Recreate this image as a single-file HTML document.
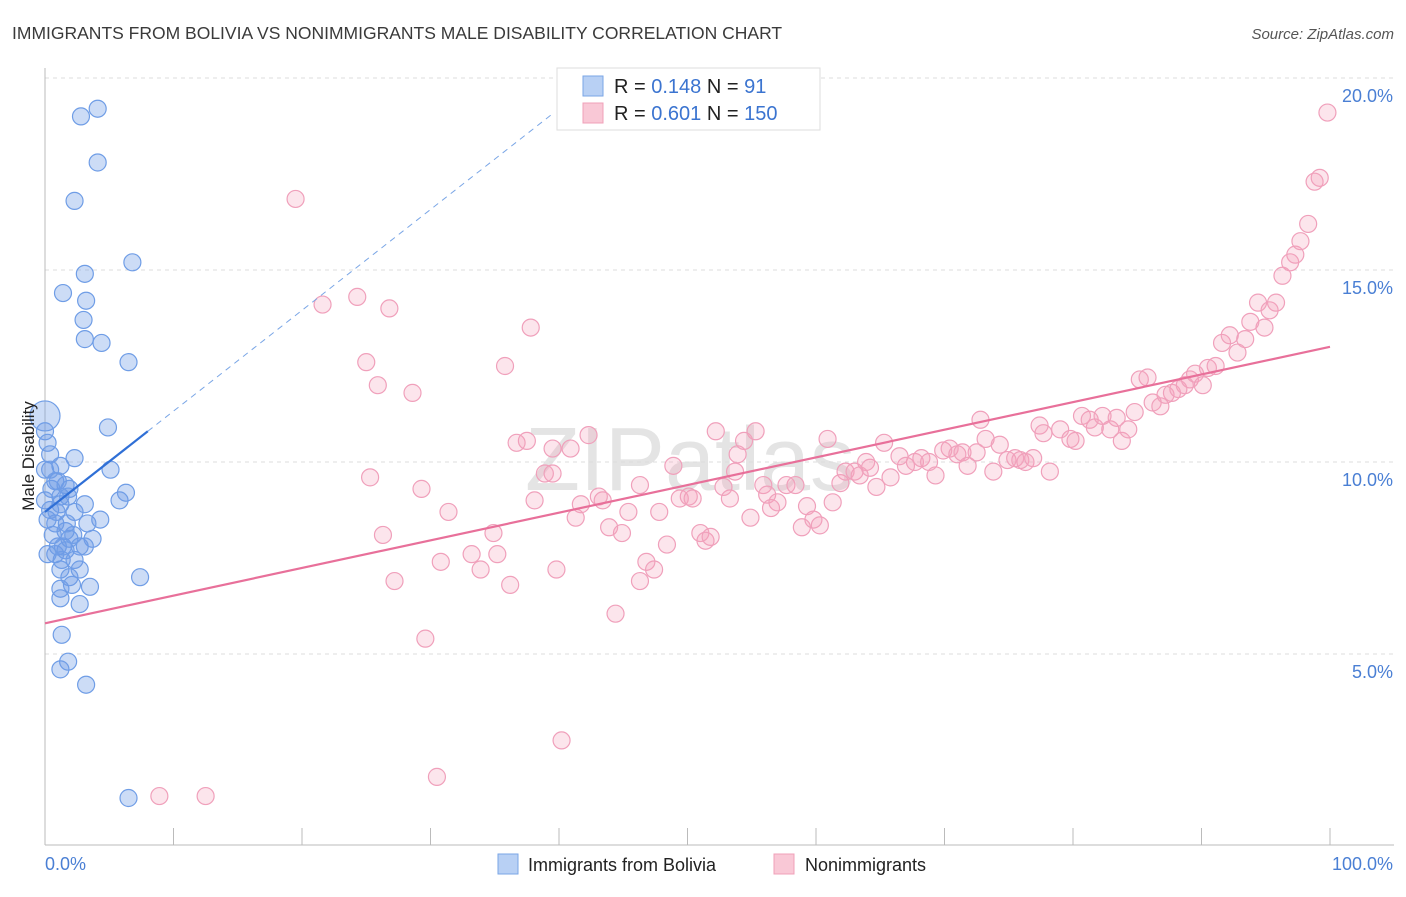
<!DOCTYPE html>
<html><head><meta charset="utf-8"><style>
body{margin:0;background:#fff;font-family:"Liberation Sans",sans-serif;}
svg text{font-family:"Liberation Sans",sans-serif;}
</style></head><body>
<svg id="chart" width="1406" height="892" xmlns="http://www.w3.org/2000/svg">
<text x="12" y="39" font-size="17.5" fill="#3a3a3a">IMMIGRANTS FROM BOLIVIA VS NONIMMIGRANTS MALE DISABILITY CORRELATION CHART</text>
<text x="1394" y="39" font-size="15" fill="#555" text-anchor="end" font-style="italic">Source: ZipAtlas.com</text>
<text x="690" y="490" font-size="90" fill="#e4e4e4" text-anchor="middle" font-family="Liberation Serif">ZIPatlas</text>
<g id="grid"></g>
<g id="axes"></g>
<g id="marks"></g>
<text transform="translate(34,456) rotate(-90)" font-size="17" fill="#222" text-anchor="middle">Male Disability</text>
<g>
<rect x="557" y="68" width="263" height="62" fill="#fff" stroke="#ddd"/>
<rect x="583" y="76" width="20" height="20" fill="#b8d0f4" stroke="#7aa6e6"/>
<rect x="583" y="103" width="20" height="20" fill="#f9c8d6" stroke="#f0a0b8"/>
<text x="614" y="93" font-size="20" fill="#222">R = <tspan fill="#3b74d0">0.148</tspan>   N =   <tspan fill="#3b74d0">91</tspan></text>
<text x="614" y="120" font-size="20" fill="#222">R = <tspan fill="#3b74d0">0.601</tspan>   N = <tspan fill="#3b74d0">150</tspan></text>
</g>
<g>
<rect x="498" y="854" width="20" height="20" fill="#b8d0f4" stroke="#7aa6e6"/>
<text x="528" y="871" font-size="18" fill="#222">Immigrants from Bolivia</text>
<rect x="774" y="854" width="20" height="20" fill="#f9c8d6" stroke="#f0a0b8"/>
<text x="805" y="871" font-size="18" fill="#222">Nonimmigrants</text>
</g>
</svg>
<script>
const yTicks=[5,10,15,20];
const yTickLabels=["5.0%","10.0%","15.0%","20.0%"];
const xTickLabels=["0.0%","100.0%"];
const blueX=[4.1,2.8,4.1,2.3,6.8,3.1,1.4,3.2,3.0,3.1,4.4,6.5,4.9,0,0,0.2,0.4,5.1,2.3,1.2,0,0.8,1.6,0.5,1.2,1.9,3.1,5.8,6.3,0,0.4,1.2,2.3,4.3,3.3,0.8,1.6,1.9,3.7,1.0,1.6,2.7,0.8,1.3,2.3,3.1,1.2,1.9,2.7,2.1,3.5,1.2,2.7,1.2,7.4,1.3,1.8,1.2,3.2,6.5,0.4,1.0,1.8,0.2,0.6,1.4,2.2,0.9,1.7,0.2];
const blueY=[19.2,19.0,17.8,16.8,15.2,14.9,14.4,14.2,13.7,13.2,13.1,12.6,10.9,11.2,10.8,10.5,10.2,9.8,10.1,9.9,9.8,9.5,9.4,9.3,9.1,9.3,8.9,9.0,9.2,9.0,8.75,8.9,8.7,8.5,8.4,8.4,8.2,8.0,8.0,7.8,7.7,7.8,7.6,7.45,7.45,7.8,7.2,7.0,7.2,6.8,6.75,6.7,6.3,6.45,7.0,5.5,4.8,4.6,4.2,1.25,9.8,9.5,9.1,8.5,8.1,7.8,8.1,8.7,8.4,7.6];
const pinkX=[19.5,21.6,24.3,26.8,37.8,25.0,35.8,25.9,28.6,25.3,29.3,31.4,26.3,27.2,30.8,29.6,33.2,33.9,35.2,34.9,36.2,39.8,36.7,37.5,38.9,39.5,38.1,40.9,42.3,41.3,41.7,43.1,43.4,43.9,44.9,45.4,46.3,44.4,46.3,46.8,47.4,47.8,48.4,48.9,49.4,50.1,50.4,51.0,51.4,51.8,52.2,52.8,53.3,53.7,54.4,54.9,55.3,55.9,56.2,56.5,57.0,57.7,58.4,58.9,59.3,59.8,60.3,60.9,61.3,61.9,62.3,63.0,63.4,63.9,64.2,64.7,65.3,65.8,66.5,67.0,67.7,68.2,68.8,69.3,69.9,70.4,71.0,71.4,71.8,72.5,72.8,73.2,73.8,74.3,74.9,75.5,75.9,76.3,76.9,77.4,77.7,78.2,79.0,79.8,80.2,80.7,81.3,81.7,82.3,82.9,83.4,83.8,84.3,84.8,85.2,85.8,86.2,86.8,87.2,87.7,88.2,88.7,89.1,89.5,90.1,90.5,91.1,91.6,92.2,92.8,93.4,93.8,94.4,94.9,95.3,95.8,96.3,96.9,97.3,97.7,98.3,98.8,99.2,99.8,8.9,12.5,30.5,40.2,39.5,53.9];
const pinkY=[16.85,14.1,14.3,14.0,13.5,12.6,12.5,12.0,11.8,9.6,9.3,8.7,8.1,6.9,7.4,5.4,7.6,7.2,7.6,8.15,6.8,7.2,10.5,10.55,9.7,9.7,9.0,10.35,10.7,8.55,8.9,9.1,9.0,8.3,8.15,8.7,9.4,6.05,6.9,7.4,7.2,8.7,7.85,9.9,9.05,9.1,9.05,8.15,7.95,8.05,10.8,9.35,9.05,9.75,10.55,8.55,10.8,9.4,9.15,8.8,8.95,9.4,9.4,8.3,8.85,8.5,8.35,10.6,8.95,9.45,9.75,9.75,9.65,10.0,9.85,9.35,10.5,9.6,10.15,9.9,10.0,10.1,10.0,9.65,10.3,10.35,10.2,10.25,9.9,10.25,11.1,10.6,9.75,10.45,10.05,10.1,10.05,10.0,10.1,10.95,10.75,9.75,10.85,10.6,10.55,11.2,11.1,10.9,11.2,10.85,11.15,10.55,10.85,11.3,12.15,12.2,11.55,11.45,11.75,11.8,11.9,12.0,12.15,12.3,12.0,12.45,12.5,13.1,13.3,12.85,13.2,13.65,14.15,13.5,13.95,14.15,14.85,15.2,15.4,15.75,16.2,17.3,17.4,19.1,1.3,1.3,1.8,2.75,10.35,10.2];
const pinkTrend=[5.8,13.0];
const blueTrend=[8.7,10.8];
const blueTrendEndX=8;

const NS="http://www.w3.org/2000/svg";
const X0=45,X1=1330,Y0=846,PY=38.4;
const sx=v=>X0+(X1-X0)*v/100;
const sy=v=>Y0-v*PY;
function mk(tag,attrs,parent){const e=document.createElementNS(NS,tag);for(const k in attrs)e.setAttribute(k,attrs[k]);parent.appendChild(e);return e;}
const grid=document.getElementById('grid'),axes=document.getElementById('axes'),marks=document.getElementById('marks');
yTicks.forEach((t,i)=>{
  const l=mk('line',{x1:X0,x2:1394,y1:sy(t),y2:sy(t),stroke:'#ddd','stroke-dasharray':'4,4'},grid);
  
  
  const tx=mk('text',{x:1393,y:sy(t)+24,'font-size':18,fill:'#4a7fd4','text-anchor':'end'},axes);
  tx.textContent=yTickLabels[i];
  
  
});
const ax=mk('line',{x1:X0,x2:1394,y1:845,y2:845,stroke:'#bbb'},axes);


const ay=mk('line',{x1:X0,x2:X0,y1:68,y2:845,stroke:'#bbb'},axes);


for(let i=0;i<=10;i++){
  const t=mk('line',{x1:sx(i*10),x2:sx(i*10),y1:828,y2:845,stroke:'#bbb'},axes);
  
  
}
const xl0=mk('text',{x:45,y:870,'font-size':18,fill:'#4a7fd4'},axes);
xl0.textContent=xTickLabels[0];


const xl1=mk('text',{x:1393,y:870,'font-size':18,fill:'#4a7fd4','text-anchor':'end'},axes);
xl1.textContent=xTickLabels[1];



pinkX.forEach((x,i)=>{
  const c=mk('circle',{cx:sx(x),cy:sy(pinkY[i]),r:8.5,fill:'rgba(244,160,188,0.28)',stroke:'#f0a0bb','stroke-width':1.2},marks);
  
  
});
blueX.forEach((x,i)=>{
  const c=mk('circle',{cx:sx(x),cy:sy(blueY[i]),r:i==13?15:8.5,fill:'rgba(110,155,230,0.35)',stroke:'#6f9de6','stroke-width':1.2},marks);
  
  
});
const pt=mk('line',{x1:sx(0),y1:sy(pinkTrend[0]),x2:sx(100),y2:sy(pinkTrend[1]),stroke:'#e8709a','stroke-width':2.2},marks);


const slope=(blueTrend[1]-blueTrend[0])/blueTrendEndX;
const xEnd=(20-blueTrend[0])/slope*0.92;
const bd=mk('line',{x1:sx(blueTrendEndX),y1:sy(blueTrend[1]),x2:sx(xEnd),y2:sy(blueTrend[0]+slope*xEnd),stroke:'#7aa6e6','stroke-width':1,'stroke-dasharray':'6,5'},marks);


const bt=mk('line',{x1:sx(0),y1:sy(blueTrend[0]),x2:sx(blueTrendEndX),y2:sy(blueTrend[1]),stroke:'#2f6fd6','stroke-width':2.2},marks);


</script>
</body></html>
